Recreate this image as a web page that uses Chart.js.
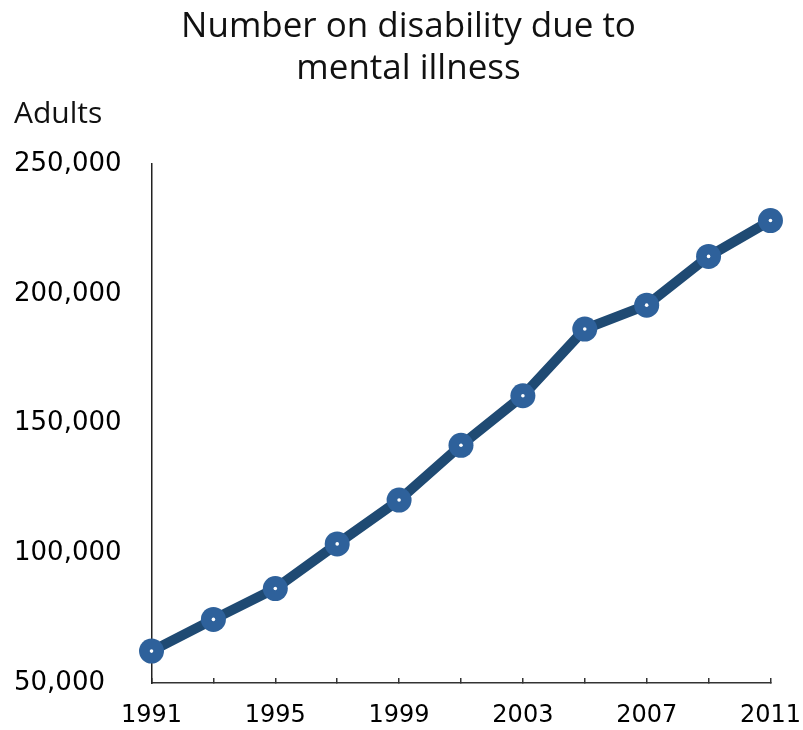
<!DOCTYPE html>
<html>
<head>
<meta charset="utf-8">
<script src="https://cdn.jsdelivr.net/npm/chart.js@4/dist/chart.umd.min.js"></script>
<style>
  html, body { margin: 0; padding: 0; background: #fff; }
  #wrap { width: 803px; height: 730px; }
</style>
</head>
<body>
<div id="wrap"><canvas id="myChart" width="803" height="730"></canvas></div>
<script>
// Number on disability due to mental illness, 1991-2011 (every 2 years)
var years = ["1991", "1993", "1995", "1997", "1999", "2001", "2003", "2005", "2007", "2009", "2011"];
var adults = [62300, 74500, 86400, 103600, 120500, 141600, 160700, 186400, 195600, 214400, 228200];
var yTicks = [50000, 100000, 150000, 200000, 250000];

var lineColor = "#1f4a73";
var dotColor = "#2e619b";

var ctx = document.getElementById("myChart").getContext("2d");
var chart = new Chart(ctx, {
  type: "line",
  data: {
    labels: years,
    datasets: [{
      label: "Adults",
      data: adults,
      order: 1,
      borderColor: lineColor,
      borderWidth: 10,
      backgroundColor: dotColor,
      pointRadius: 12.5,
      pointBorderWidth: 0,
      pointBackgroundColor: dotColor,
      tension: 0
    }, {
      // little white centre of each marker
      label: "centre",
      data: adults,
      order: 0,
      showLine: false,
      pointRadius: 1.8,
      pointBorderWidth: 0,
      pointBackgroundColor: "#ffffff"
    }]
  },
  options: {
    responsive: false,
    animation: false,
    layout: { padding: { left: 14, right: 0, top: 6, bottom: 0 } },
    plugins: {
      legend: { display: false },
      tooltip: { enabled: false },
      title: {
        display: true,
        text: ["Number on disability due to", "mental illness"],
        color: "#111",
        font: { family: "Open Sans", size: 35, weight: "normal" },
        lineHeight: 1.09,
        padding: { top: 0, bottom: 6 }
      },
      subtitle: {
        display: true,
        text: "Adults",
        align: "start",
        color: "#111",
        font: { family: "Open Sans", size: 30, weight: "normal" },
        padding: { top: 0, bottom: 32 }
      }
    },
    scales: {
      x: {
        type: "category",
        offset: false,
        grid: { display: true, drawOnChartArea: false, tickLength: -5, color: "#333", lineWidth: 1.5 },
        border: { display: true, color: "#333", width: 1.5 },
        ticks: {
          autoSkip: false,
          maxRotation: 0,
          color: "#000",
          padding: 2,
          font: { family: "DejaVu Sans", size: 24, lineHeight: 1.0 },
          // empty first line pushes the year below the axis without widening the side overflow
          callback: function (v, i) { return i % 2 === 0 ? ["", years[i]] : ""; }
        }
      },
      y: {
        min: 50000,
        max: 250000,
        afterBuildTicks: function (axis) {
          axis.ticks = yTicks.map(function (v) { return { value: v }; });
        },
        // hidden tick length gives the gap between labels and axis line
        grid: { display: false, drawTicks: true, tickLength: 30 },
        border: { display: true, color: "#222", width: 1.5 },
        ticks: {
          color: "#000",
          crossAlign: "far",
          padding: 0,
          font: { family: "DejaVu Sans", size: 26 },
          callback: function (v) { return v.toLocaleString("en-US"); }
        }
      }
    }
  }
});
</script>
</body>
</html>
